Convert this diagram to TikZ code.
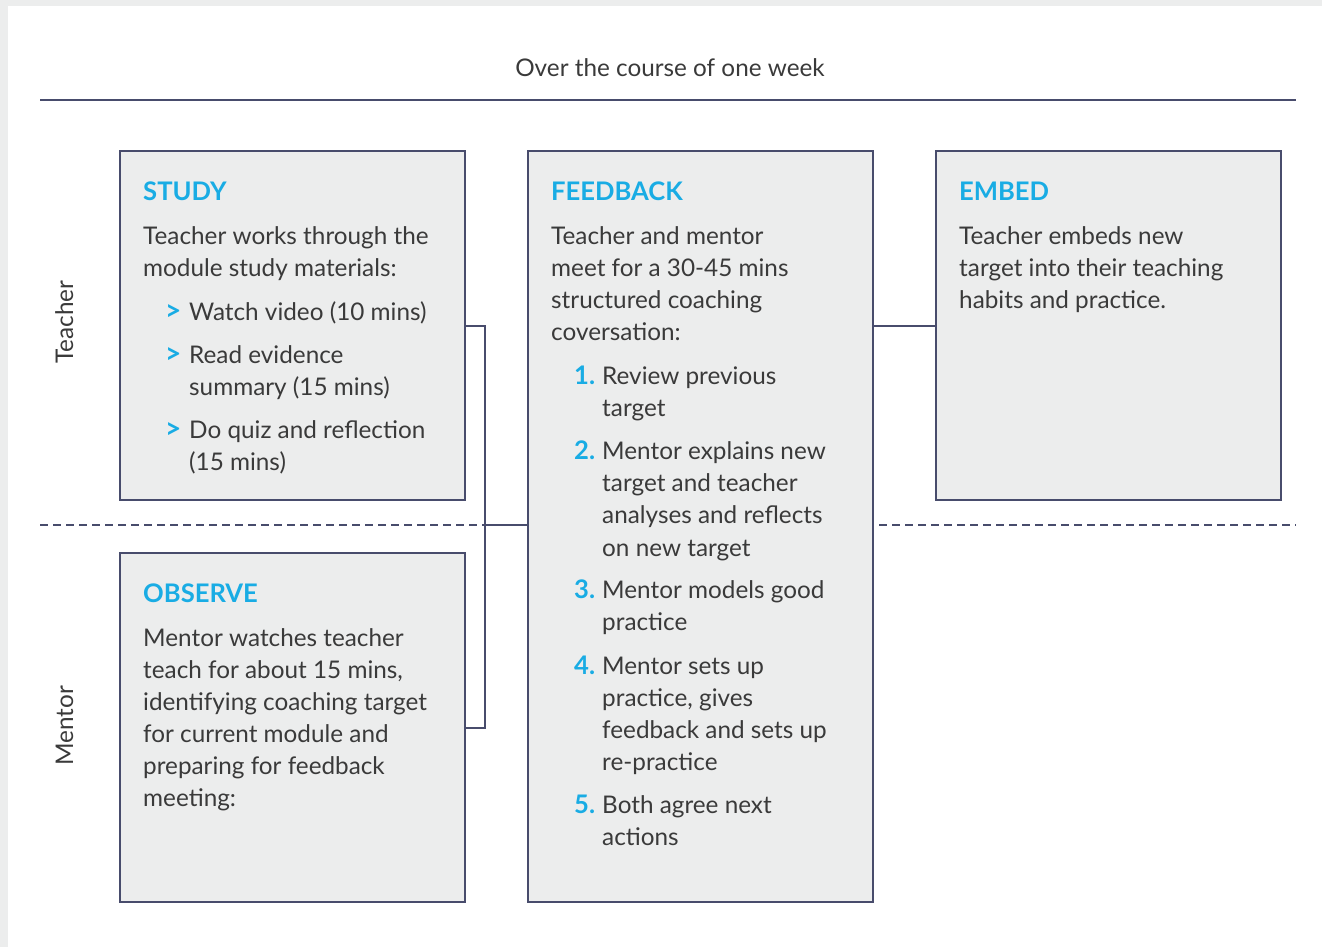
\documentclass[tikz,border=0pt]{standalone}
\usepackage{fontspec}
\setmainfont{Lato}
\definecolor{navy}{RGB}{72,76,108}
\definecolor{boxgray}{RGB}{236,237,237}
\definecolor{txtgray}{RGB}{58,58,58}
\definecolor{hcyan}{RGB}{25,172,228}
\tikzset{
  box/.style={draw=navy, fill=boxgray, line width=2.4pt, inner sep=0pt, anchor=north west},
  conn/.style={draw=navy, line width=2.2pt},
  dline/.style={draw=navy, line width=2pt, dash pattern=on 8pt off 5pt},
  txt/.style={anchor=base west, inner sep=0pt, text=txtgray, font=\fontsize{24.3}{28}\selectfont},
  hd/.style={anchor=base west, inner sep=0pt, text=hcyan, font=\fontsize{25.6}{28}\selectfont\bfseries},
  bul/.style={anchor=base west, inner sep=0pt, text=hcyan, font=\fontsize{28}{30}\selectfont\bfseries},
  side/.style={anchor=base, inner sep=0pt, rotate=90, text=txtgray, font=\fontsize{24.3}{28}\selectfont}
}
\newcommand\Ln[4]{\node[txt] (#1) at (#2,#3) {#4};}
\newcommand\Hd[4]{\node[hd] (#1) at (#2,#3) {#4};}
\newcommand\Bu[3]{\node[bul] (#1) at (#2,#3) {>};}
\begin{document}
\begin{tikzpicture}[x=1pt,y=-1pt]
\useasboundingbox (0,0) rectangle (1322,947);
\fill[boxgray] (0,0) rectangle (1322,947);
\fill[white] (8,6) rectangle (1322,947);

% title and top rule
\node[anchor=base, inner sep=0pt, text=txtgray, font=\fontsize{24.3}{28}\selectfont] (title) at (670,77) {Over the course of one week};
\coordinate (tl) at (40,100);
\coordinate (tr) at (1296,100);
\draw[conn, line width=2.5pt] (tl) -- (tr);

% side labels
\node[side] (teacher) at (73,322) {Teacher};
\node[side] (mentor) at (73,726) {Mentor};

% boxes
\node[box, minimum width=345pt, minimum height=349pt] (study) at (119,150) {};
\node[box, minimum width=345pt, minimum height=349pt] (observe) at (119,552) {};
\node[box, minimum width=345pt, minimum height=751pt] (feedback) at (527,150) {};
\node[box, minimum width=345pt, minimum height=349pt] (embed) at (935,150) {};

% dashed separator
\coordinate (j) at (485,525);
\coordinate (dl) at (40,525);
\coordinate (dr) at (1296,525);
\draw[dline] (dl) -- (j);
\draw[dline] (feedback.east |- dr) ++(5,0) -- (dr);

% connectors
\draw[conn] (study.east) -| (j) |- (observe.east);
\draw[conn] (j) -- (j -| feedback.west);
\draw[conn] (feedback.east |- embed.west) -- (embed.west);

% STUDY
\Hd{s0}{143}{200}{STUDY}
\Ln{s1}{143}{244}{Teacher works through the}
\Ln{s2}{143}{276}{module study materials:}
\Bu{sb1}{165}{320}
\Ln{s3}{189}{320}{Watch video (10 mins)}
\Bu{sb2}{165}{363}
\Ln{s4}{189}{363}{Read evidence}
\Ln{s5}{189}{395}{summary (15 mins)}
\Bu{sb3}{165}{438}
\Ln{s6}{189}{438}{Do quiz and reflection}
\Ln{s7}{189}{470}{(15 mins)}

% OBSERVE
\Hd{o0}{143}{602}{OBSERVE}
\Ln{o1}{143}{646}{Mentor watches teacher}
\Ln{o2}{143}{678}{teach for about 15 mins,}
\Ln{o3}{143}{710}{identifying coaching target}
\Ln{o4}{143}{742}{for current module and}
\Ln{o5}{143}{774}{preparing for feedback}
\Ln{o6}{143}{806}{meeting:}

% FEEDBACK
\Hd{f0}{551}{200}{FEEDBACK}
\Ln{f1}{551}{244}{Teacher and mentor}
\Ln{f2}{551}{276}{meet for a 30-45 mins}
\Ln{f3}{551}{308}{structured coaching}
\Ln{f4}{551}{340}{coversation:}
\Hd{n1}{574}{384}{1.}
\Ln{f5}{602}{384}{Review previous}
\Ln{f6}{602}{416}{target}
\Hd{n2}{574}{459}{2.}
\Ln{f7}{602}{459}{Mentor explains new}
\Ln{f8}{602}{491}{target and teacher}
\Ln{f9}{602}{523}{analyses and reflects}
\Ln{f10}{602}{556}{on new target}
\Hd{n3}{574}{598}{3.}
\Ln{f11}{602}{598}{Mentor models good}
\Ln{f12}{602}{630}{practice}
\Hd{n4}{574}{674}{4.}
\Ln{f13}{602}{674}{Mentor sets up}
\Ln{f14}{602}{706}{practice, gives}
\Ln{f15}{602}{738}{feedback and sets up}
\Ln{f16}{602}{770}{re-practice}
\Hd{n5}{574}{813}{5.}
\Ln{f17}{602}{813}{Both agree next}
\Ln{f18}{602}{845}{actions}

% EMBED
\Hd{e0}{959}{200}{EMBED}
\Ln{e1}{959}{244}{Teacher embeds new}
\Ln{e2}{959}{276}{target into their teaching}
\Ln{e3}{959}{308}{habits and practice.}
\end{tikzpicture}
\end{document}
